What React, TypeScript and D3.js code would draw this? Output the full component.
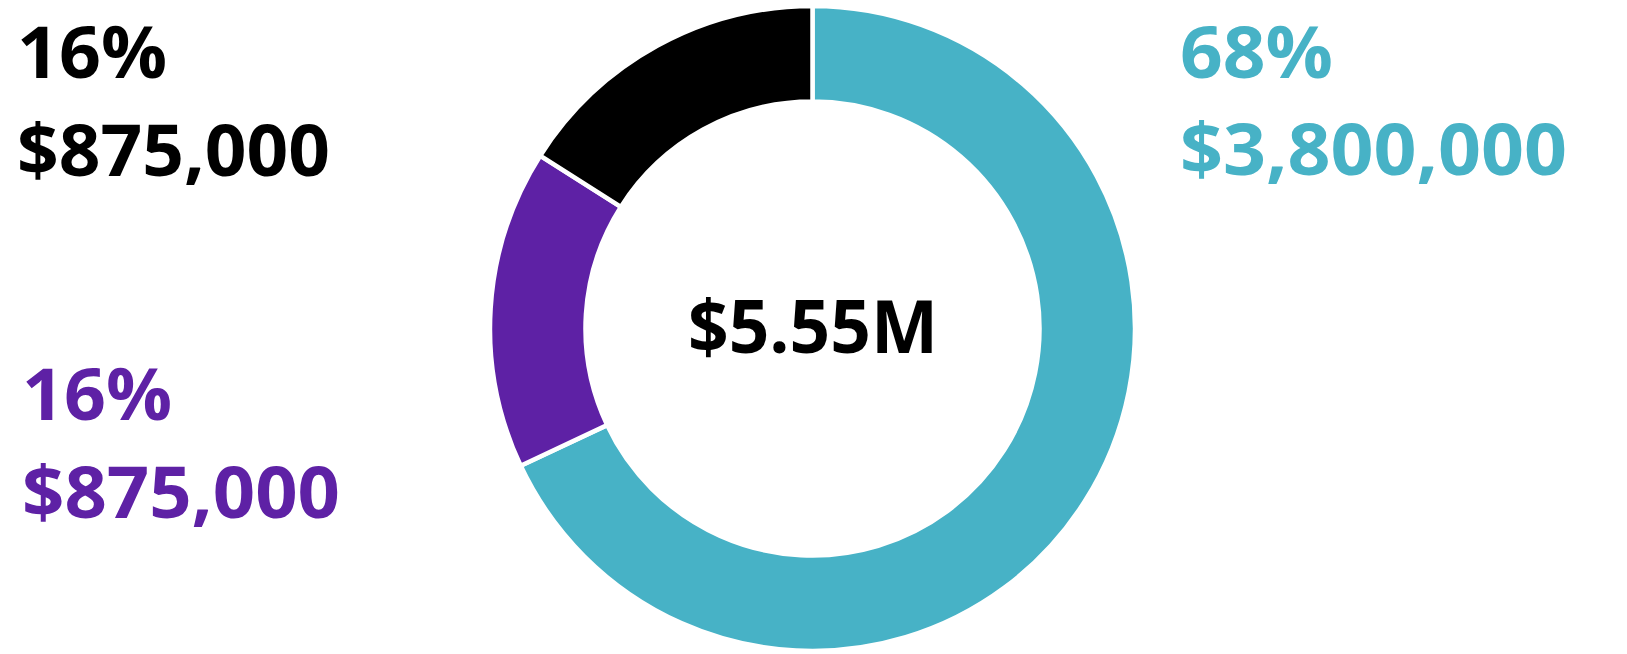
import React from "react";
import * as d3 from "d3";

const categories = ["Teal", "Purple", "Black"];
const shares = [68, 16, 16];
const colors = ["#47B2C6", "#5E21A5", "#000000"];
const percentLabels = ["68%", "16%", "16%"];
const amountLabels = ["$3,800,000", "$875,000", "$875,000"];
const totalLabel = "$5.55M";

const W = 1627;
const H = 654;

export default function App() {
  const cx = 812.5;
  const cy = 328.5;
  const outerR = 322.5;
  const innerR = 227;
  const pie = d3
    .pie<number>()
    .sort(null)
    .value((d) => d)
    .startAngle(0)
    .endAngle(Math.PI * 2);
  const arcs = pie(shares);
  const arc = d3.arc<d3.PieArcDatum<number>>().innerRadius(innerR).outerRadius(outerR);

  const font = "'Open Sans', Lato, sans-serif";
  const fs = 72;
  const fw = 700;

  const labelPos = [
    { x: 1180, y1: 78, y2: 175, w1: 153, w2: 387 },
    { x: 22, y1: 420, y2: 518, w1: 150, w2: 318 },
    { x: 17, y1: 78, y2: 176, w1: 150, w2: 313 },
  ];

  return (
    <svg
      width={W}
      height={H}
      style={{ position: "absolute", left: 0, top: 0, background: "#fff" }}
    >
      <g transform={`translate(${cx},${cy})`}>
        {arcs.map((a, i) => (
          <path
            key={categories[i]}
            d={arc(a) || ""}
            fill={colors[i]}
            stroke="#ffffff"
            strokeWidth={4.5}
            strokeLinejoin="miter"
          />
        ))}
      </g>
      <text
        x={813}
        y={353}
        textAnchor="middle"
        fontFamily={font}
        fontWeight={fw}
        fontSize={74}
        fill="#000"
        textLength={250}
        lengthAdjust="spacingAndGlyphs"
      >
        {totalLabel}
      </text>
      {categories.map((c, i) => (
        <g key={c} fill={colors[i]} fontFamily={font} fontWeight={fw} fontSize={fs}>
          <text
            x={labelPos[i].x}
            y={labelPos[i].y1}
            textLength={labelPos[i].w1}
            lengthAdjust="spacingAndGlyphs"
          >
            {percentLabels[i]}
          </text>
          <text
            x={labelPos[i].x}
            y={labelPos[i].y2}
            textLength={labelPos[i].w2}
            lengthAdjust="spacingAndGlyphs"
          >
            {amountLabels[i]}
          </text>
        </g>
      ))}
    </svg>
  );
}
